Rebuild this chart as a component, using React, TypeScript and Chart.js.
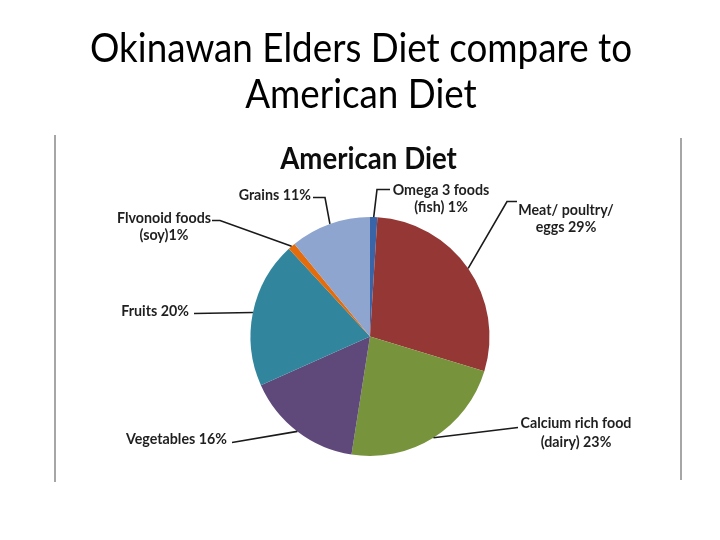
import { useEffect, useRef } from "react";
import { Chart, registerables } from "chart.js";

Chart.register(...registerables);

// ---- data ----
const categories = [
  "Omega 3 foods (fish)",
  "Meat/ poultry/ eggs",
  "Calcium rich food (dairy)",
  "Vegetables",
  "Fruits",
  "Flvonoid foods (soy)",
  "Grains",
];
const values = [1, 29, 23, 16, 20, 1, 11];
const labelLines = [
  ["Omega 3 foods", "(fish) 1%"],
  ["Meat/ poultry/", "eggs 29%"],
  ["Calcium rich food", "(dairy) 23%"],
  ["Vegetables 16%"],
  ["Fruits 20%"],
  ["Flvonoid foods", "(soy)1%"],
  ["Grains 11%"],
];
const sliceColors = ["#3A64A8", "#953735", "#77933C", "#5F497A", "#31859C", "#E46C0A", "#8EA5D0"];
const titleLines = ["Okinawan Elders Diet compare to", "American Diet"];
const chartTitle = "American Diet";

// ---- label layout (relative to pie centre) ----
type LabelLayout = { path: number[][]; tx: number; ty: number[]; align: CanvasTextAlign };
const labelLayout: LabelLayout[] = [
  { path: [[7, -147], [20, -147]], tx: 71, ty: [-147, -130], align: "center" },
  { path: [[137, -135], [147, -135]], tx: 196, ty: [-127, -110], align: "center" },
  { path: [[148, 91]], tx: 206, ty: [86, 105], align: "center" },
  { path: [[-138, 106]], tx: -143, ty: [102], align: "right" },
  { path: [[-176, -23]], tx: -181, ty: [-26], align: "right" },
  { path: [[-150, -116], [-158, -116]], tx: -206, ty: [-119, -102], align: "center" },
  { path: [[-45, -139], [-57, -139]], tx: -59, ty: [-142], align: "right" },
];

const FONT = "Lato, 'Open Sans', sans-serif";

function drawText(
  ctx: CanvasRenderingContext2D,
  text: string,
  x: number,
  y: number,
  font: string,
  align: CanvasTextAlign,
  baseline: CanvasTextBaseline,
  sx: number,
  color: string
) {
  ctx.save();
  ctx.font = font;
  ctx.fillStyle = color;
  ctx.textAlign = align;
  ctx.textBaseline = baseline;
  ctx.translate(x, y);
  ctx.scale(sx, 1);
  ctx.fillText(text, 0, 0);
  ctx.restore();
}

const slidePlugin = {
  id: "slideDecor",
  beforeDraw(chart: any) {
    const ctx: CanvasRenderingContext2D = chart.ctx;
    ctx.save();
    ctx.fillStyle = "#ffffff";
    ctx.fillRect(0, 0, chart.width, chart.height);
    ctx.strokeStyle = "#A6A6A6";
    ctx.lineWidth = 2;
    ctx.beginPath();
    ctx.moveTo(55, 135);
    ctx.lineTo(55, 482);
    ctx.moveTo(681, 138);
    ctx.lineTo(681, 480);
    ctx.stroke();
    ctx.restore();
  },
  afterDatasetsDraw(chart: any) {
    const ctx: CanvasRenderingContext2D = chart.ctx;
    ctx.save();
    ctx.font = `40px ${FONT}`;
    const sx = Math.min(1.1, Math.max(0.8, 542 / ctx.measureText(titleLines[0]).width));
    ctx.restore();

    // slide title
    drawText(ctx, titleLines[0], 361, 62, `40px ${FONT}`, "center", "alphabetic", sx, "#000");
    drawText(ctx, titleLines[1], 361, 108, `40px ${FONT}`, "center", "alphabetic", sx, "#000");
    // chart title
    drawText(ctx, chartTitle, 368.5, 169, `bold 30px ${FONT}`, "center", "alphabetic", sx, "#0d0d0d");

    const meta = chart.getDatasetMeta(0);
    meta.data.forEach((arc: any, i: number) => {
      const p = arc.getProps(["x", "y", "startAngle", "endAngle", "outerRadius"], true);
      const mid = (p.startAngle + p.endAngle) / 2;
      const lay = labelLayout[i];
      ctx.save();
      ctx.strokeStyle = "#1a1a1a";
      ctx.lineWidth = 1.6;
      ctx.beginPath();
      ctx.moveTo(p.x + Math.cos(mid) * p.outerRadius, p.y + Math.sin(mid) * p.outerRadius);
      lay.path.forEach(([dx, dy]) => ctx.lineTo(p.x + dx, p.y + dy));
      ctx.stroke();
      ctx.restore();
      labelLines[i].forEach((line, j) => {
        drawText(ctx, line, p.x + lay.tx, p.y + lay.ty[j], `bold 15.5px ${FONT}`, lay.align, "middle", sx, "#1f1f1f");
      });
    });
  },
};

export default function App() {
  const ref = useRef<HTMLCanvasElement | null>(null);
  useEffect(() => {
    let chart: Chart | null = null;
    let cancelled = false;
    const make = () => {
      if (cancelled || !ref.current) return;
      chart = new Chart(ref.current, {
        type: "pie",
        data: {
          labels: categories,
          datasets: [
            {
              data: values,
              backgroundColor: sliceColors,
              borderWidth: 0,
            },
          ],
        },
        options: {
          responsive: false,
          animation: false,
          devicePixelRatio: 1,
          layout: { padding: { top: 217, bottom: 84, left: 200, right: 180 } },
          plugins: {
            legend: { display: false },
            tooltip: { enabled: false },
            title: { display: false },
          },
        },
        plugins: [slidePlugin],
      });
    };
    const fontsApi = (document as any).fonts;
    if (fontsApi && fontsApi.load) {
      Promise.all([fontsApi.load(`40px Lato`), fontsApi.load(`bold 22px Lato`)])
        .catch(() => null)
        .then(make);
    } else {
      make();
    }
    return () => {
      cancelled = true;
      if (chart) chart.destroy();
    };
  }, []);
  return (
    <div style={{ position: "absolute", left: 0, top: 0, width: 720, height: 540, background: "#fff" }}>
      <canvas ref={ref} width={720} height={540} style={{ width: 720, height: 540, display: "block" }} />
    </div>
  );
}
